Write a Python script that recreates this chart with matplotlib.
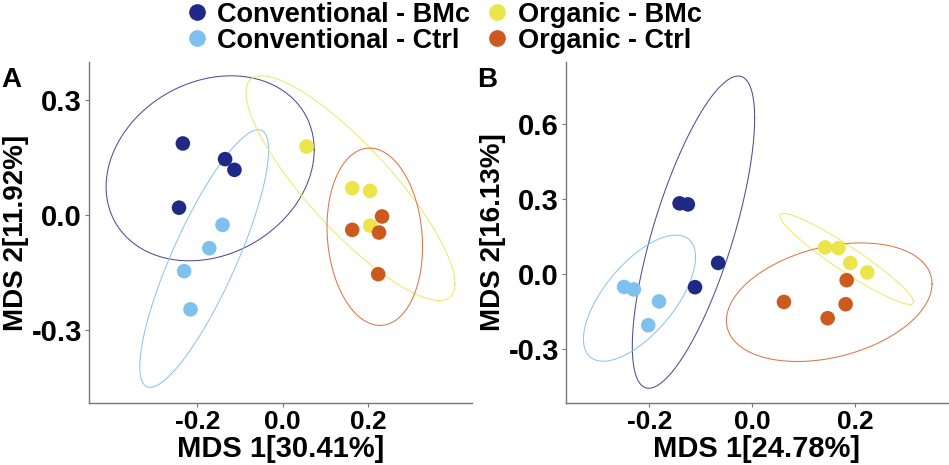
import numpy as np
import matplotlib.pyplot as plt
from matplotlib.lines import Line2D

plt.rcParams['font.family'] = ['Liberation Sans', 'DejaVu Sans']
plt.rcParams['font.weight'] = 'bold'

groups = ["Conventional - BMc", "Conventional - Ctrl", "Organic - BMc", "Organic - Ctrl"]
colors = ["#1f2a86", "#7ec0ee", "#ebe54a", "#cc5a1e"]
ell_colors = ["#4a4f96", "#8cc6ee", "#eee86a", "#d9774a"]

# panel A points
a_x = [[-0.234, -0.135, -0.113, -0.243],
       [-0.141, -0.172, -0.231, -0.216],
       [0.056, 0.163, 0.205, 0.205],
       [0.233, 0.163, 0.226, 0.224]]
a_y = [[0.187, 0.146, 0.118, 0.019],
       [-0.026, -0.087, -0.147, -0.247],
       [0.179, 0.070, 0.063, -0.028],
       [-0.004, -0.039, -0.046, -0.155]]
# panel B points
b_x = [[-0.141, -0.125, -0.066, -0.111],
       [-0.249, -0.230, -0.181, -0.202],
       [0.142, 0.168, 0.191, 0.224],
       [0.184, 0.062, 0.182, 0.147]]
b_y = [[0.283, 0.279, 0.045, -0.052],
       [-0.051, -0.061, -0.109, -0.204],
       [0.107, 0.104, 0.045, 0.007],
       [-0.024, -0.111, -0.120, -0.176]]

# ellipses: centre x, centre y, half width, half height, correlation
a_ell = [(-0.170, 0.122, 0.244, 0.242, 0.20),
         (-0.184, -0.114, 0.151, 0.337, 0.84),
         (0.159, 0.070, 0.245, 0.294, -0.85),
         (0.216, -0.057, 0.112, 0.232, -0.11)]
b_ell = [(-0.114, 0.168, 0.119, 0.624, 0.73),
         (-0.219, -0.096, 0.109, 0.252, 0.65),
         (0.184, 0.061, 0.130, 0.182, -0.945),
         (0.150, -0.112, 0.200, 0.237, 0.31)]

a_xlabel = "MDS 1[30.41%]"
a_ylabel = "MDS 2[11.92%]"
b_xlabel = "MDS 1[24.78%]"
b_ylabel = "MDS 2[16.13%]"


def draw(ax, xs, ys, ells, xlabel, ylabel, xlim, ylim, yticks):
    t = np.linspace(0, 2 * np.pi, 200)
    for (cx, cy, sx, sy, r), c in zip(ells, ell_colors):
        ex = cx + sx * np.cos(t)
        ey = cy + sy * (r * np.cos(t) + np.sqrt(1 - r * r) * np.sin(t))
        ax.plot(ex, ey, color=c, lw=0.75)
    for x, y, c in zip(xs, ys, colors):
        ax.scatter(x, y, s=110, color=c, edgecolors='none', zorder=3)
    ax.set_xlim(xlim)
    ax.set_ylim(ylim)
    ax.set_xticks([-0.2, 0.0, 0.2])
    ax.set_xticklabels(["-0.2", "0.0", "0.2"])
    ax.set_yticks(yticks)
    ax.set_yticklabels(["%.1f" % v for v in yticks])
    ax.tick_params(axis='x', labelsize=19, length=3, color='#777777', pad=2)
    ax.tick_params(axis='y', labelsize=21, length=3, color='#777777', pad=2)
    ax.set_xlabel(xlabel, fontsize=21, fontweight='bold', labelpad=1)
    ax.set_ylabel(ylabel, fontsize=20, fontweight='bold', labelpad=2)
    for s in ['top', 'right']:
        ax.spines[s].set_visible(False)
    for s in ['left', 'bottom']:
        ax.spines[s].set_color('#777777')
        ax.spines[s].set_linewidth(1.0)


fig = plt.figure(figsize=(9.49, 4.65), dpi=100)
ax1 = fig.add_axes([0.0938, 0.1333, 0.4036, 0.7333])
ax2 = fig.add_axes([0.5964, 0.1333, 0.4025, 0.7333])

draw(ax1, a_x, a_y, a_ell, a_xlabel, a_ylabel, (-0.454, 0.444), (-0.492, 0.40), [-0.3, 0.0, 0.3])
draw(ax2, b_x, b_y, b_ell, b_xlabel, b_ylabel, (-0.362, 0.381), (-0.515, 0.848), [-0.3, 0.0, 0.3, 0.6])

fig.text(0.001, 0.828, "A", fontsize=20, fontweight='bold', va='center')
fig.text(0.503, 0.828, "B", fontsize=20, fontweight='bold', va='center')

handles = [Line2D([], [], marker='o', ls='', color=c, markersize=11) for c in colors]
fig.legend(handles, groups, ncol=2, loc='upper center', bbox_to_anchor=(0.467, 1.02),
           frameon=False, fontsize=19.5, handletextpad=0.3, columnspacing=0.55,
           labelspacing=0.0, handlelength=0.9, borderaxespad=0.0)

fig.savefig("out.png", dpi=100)
